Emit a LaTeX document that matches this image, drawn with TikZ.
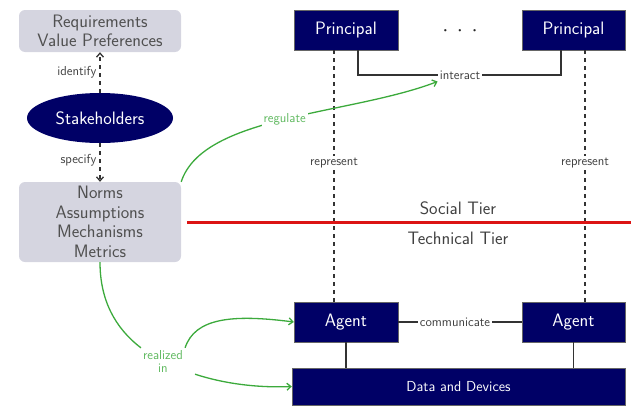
\documentclass[tikz,border=0pt]{standalone}
\usetikzlibrary{arrows.meta,shapes.geometric}
\definecolor{navyb}{RGB}{0,0,102}
\definecolor{boxgray}{RGB}{213,213,224}
\definecolor{txtgray}{RGB}{80,80,80}
\definecolor{grn}{RGB}{60,170,60}
\definecolor{grntxt}{RGB}{95,185,95}
\definecolor{tierred}{RGB}{220,20,20}
\tikzset{
  graybox/.style={draw=none,fill=boxgray,rounded corners=6pt,text=txtgray,align=center,font=\sffamily\fontsize{18}{19.5}\selectfont,minimum width=162pt,inner sep=0pt},
  navybox/.style={draw=black!60,line width=0.4pt,fill=navyb,text=white,font=\sffamily\fontsize{18}{20}\selectfont,minimum width=104pt,minimum height=40pt,inner sep=0pt},
  lab/.style={fill=white,text=black!75,font=\sffamily\fontsize{13}{15}\selectfont,inner sep=2pt},
  glab/.style={fill=white,text=grntxt,font=\sffamily\fontsize{13}{13}\selectfont,inner sep=2pt,align=center},
  conn/.style={draw=black!80,line width=1.3pt},
  dashconn/.style={draw=black!80,line width=1.3pt,dash pattern=on 4pt off 4pt},
  gconn/.style={draw=grn,line width=1.3pt},
  tip/.style={-{Straight Barb[length=4pt,width=7pt]}},
  tier/.style={text=txtgray!80!black,font=\sffamily\fontsize{18}{20}\selectfont}
}
\begin{document}
\begin{tikzpicture}[x=1pt,y=-1pt]
\useasboundingbox (0,0) rectangle (636,415);
% left column
\node[graybox,minimum height=42pt] (req) at (100,31) {Requirements\\Value Preferences};
\node[ellipse,fill=navyb,text=white,minimum width=146pt,minimum height=50pt,inner sep=0pt,font=\sffamily\fontsize{18}{20}\selectfont] (stake) at (100,118) {Stakeholders};
\node[graybox,minimum height=80pt] (norms) at (100,222) {Norms\\Assumptions\\Mechanisms\\Metrics};
\draw[dashconn,tip] (stake.north) -- node[lab,left=1pt,pos=0.5] {identify} (req.south);
\draw[dashconn,tip] (stake.south) -- node[lab,left=1pt,pos=0.45] {specify} (norms.north);
% principals and agents
\node[navybox] (p1) at (346,30) {Principal};
\node[navybox,minimum width=103pt] (p2) at (573.5,30) {Principal};
\node[font=\fontsize{8}{8}\selectfont,text=black!85,inner sep=0pt] (dots) at (460,31) {\textbullet\hspace{8pt}\textbullet\hspace{8pt}\textbullet};
\node[navybox] (a1) at (346,322) {Agent};
\node[navybox,minimum width=103pt] (a2) at (573.5,322) {Agent};
\node[navybox,minimum width=333pt,minimum height=37pt,font=\sffamily\fontsize{14.5}{16}\selectfont] (dd) at (458.5,386.5) {Data and Devices};
% interact
\node[lab] (intlab) at (460,75) {interact};
\draw[conn] ([xshift=12pt]p1.south) |- (intlab.west);
\draw[conn] ([xshift=-12.5pt]p2.south) |- (intlab.east);
% represent
\node[lab] (rep1) at (334,163) {represent};
\node[lab] (rep2) at (585,163) {represent};
\draw[dashconn] ([xshift=-12pt]p1.south) -- (rep1.north);
\draw[dashconn] (rep1.south) -- ([xshift=-12pt]a1.north);
\draw[dashconn] ([xshift=11.5pt]p2.south) -- (rep2.north);
\draw[dashconn] (rep2.south) -- ([xshift=11.5pt]a2.north);
% communicate
\node[lab] (comlab) at (455,322) {communicate};
\draw[conn] (a1.east) -- (comlab.west);
\draw[conn] (comlab.east) -- (a2.west);
\draw[conn] (a1.south) -- (a1.south |- dd.north);
\draw[conn] (a2.south) -- (a2.south |- dd.north);
% tiers
\coordinate (redl) at (187,222.5);
\coordinate (redr) at (631,222.5);
\draw[draw=tierred,line width=2.6pt] (redl) -- (redr);
\node[tier] (social) at (458,208) {Social Tier};
\node[tier] (tech) at (458,238) {Technical Tier};
% regulate
\draw[gconn,tip] (norms.north east) .. controls (203,115) and (350,115) .. (intlab.south west) node[glab,pos=0.5] (reglab) {regulate};
% realized in
\node[glab] (rl) at (163,361) {realized\\in};
\draw[gconn] (norms.south) .. controls (100,300) and (115,328) .. (rl.north west);
\draw[gconn,tip] (rl.north east) .. controls (195,318) and (232,314) .. (a1.west);
\draw[gconn,tip] ([xshift=10pt]rl.south east) .. controls (222,383) and (255,388) .. (dd.west);
\end{tikzpicture}
\end{document}
